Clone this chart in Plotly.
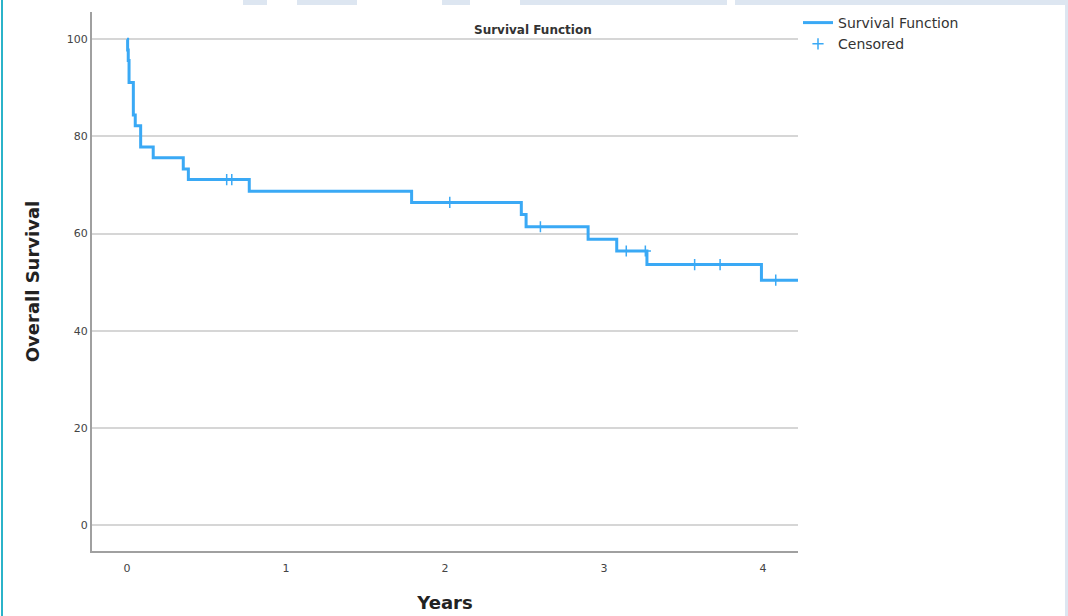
import plotly.graph_objects as go

# Kaplan-Meier step data (years, survival %)
step_times = [0, 0.004, 0.008, 0.013, 0.040, 0.052, 0.086, 0.165, 0.354, 0.386,
              0.769, 1.79, 2.48, 2.51, 2.90, 3.08, 3.27, 3.99, 4.30]
survival = [100, 97.8, 95.6, 91.1, 84.4, 82.2, 77.8, 75.6, 73.3, 71.1,
            68.7, 66.4, 63.9, 61.4, 58.8, 56.4, 53.6, 50.4, 50.4]

censored_times = [0.627, 0.659, 2.03, 2.60, 3.14, 3.26, 3.57, 3.73, 4.08]
censored_values = [71.1, 71.1, 66.4, 61.4, 56.4, 56.4, 53.6, 53.6, 50.4]

x_ticks = [0, 1, 2, 3, 4]
y_ticks = [0, 20, 40, 60, 80, 100]

BLUE = "#3aa9f5"
FONT = "DejaVu Sans"

fig = go.Figure()
fig.add_trace(go.Scatter(
    x=step_times, y=survival, mode="lines", line=dict(shape="hv", color=BLUE, width=3),
    name="Survival Function"))
fig.add_trace(go.Scatter(
    x=censored_times, y=censored_values, mode="markers",
    marker=dict(symbol="cross-thin", size=8, line=dict(color=BLUE, width=1.5), color=BLUE),
    name="Censored"))

L, R, T, B = 92, 798, 12, 551
W, H = 1068, 616

def px(xp):
    return (xp - L) / (R - L)

def py(yp):
    return (B - yp) / (B - T)

shapes = []
shapes.append(dict(type="line", xref="paper", yref="paper", x0=px(2), x1=px(2), y0=py(0), y1=py(616),
                   line=dict(color="#2bb3c9", width=2), layer="above"))
shapes.append(dict(type="rect", xref="paper", yref="paper", x0=px(1065), x1=px(1068), y0=py(0), y1=py(616),
                   line=dict(width=0), fillcolor="#dde6f1", layer="below"))
for x0, x1 in [(243, 267), (297, 357), (442, 470), (520, 727), (735, 1068)]:
    shapes.append(dict(type="rect", xref="paper", yref="paper", x0=px(x0), x1=px(x1), y0=py(0), y1=py(5),
                       line=dict(width=0), fillcolor="#dde6f1", layer="below"))

fig.update_layout(
    width=W, height=H,
    margin=dict(l=L, r=W - R, t=T, b=H - B, autoexpand=False),
    paper_bgcolor="white", plot_bgcolor="white",
    font=dict(family=FONT, color="#333333"),
    showlegend=True,
    legend=dict(xref="container", yref="container", x=798 / W, y=1 - 7 / H,
                xanchor="left", yanchor="top", bgcolor="rgba(0,0,0,0)",
                font=dict(size=14, color="#333333", family=FONT), tracegroupgap=0,
                itemwidth=30),
    xaxis=dict(range=[-0.22, 4.22], tickvals=x_ticks, ticktext=[str(v) for v in x_ticks],
               showgrid=False, zeroline=False, showline=True, linecolor="#a0a0a0", linewidth=2,
               ticks="", tickfont=dict(size=11, color="#444444"), ticklabelstandoff=6,
               automargin=False,
               title=dict(text="<b>Years</b>", font=dict(size=18, color="#222222"), standoff=22)),
    yaxis=dict(range=[-5.35, 105.6], tickvals=y_ticks, ticktext=[str(v) for v in y_ticks],
               showgrid=True, gridcolor="#d6d6d6", gridwidth=1.5, zeroline=False,
               showline=True, linecolor="#a0a0a0", linewidth=2, ticks="",
               tickfont=dict(size=11, color="#444444"), automargin=False,
               title=dict(text="<b>Overall Survival</b>", font=dict(size=18, color="#222222"), standoff=22)),
    shapes=shapes,
    annotations=[dict(text="<b>Survival Function</b>", xref="paper", yref="paper",
                      x=px(533), y=py(30), xanchor="center", yanchor="middle",
                      showarrow=False, font=dict(size=12, color="#333333"))],
)

fig.write_html("out.html", config={"displayModeBar": False},
               post_script="document.body.style.margin='0';document.body.style.padding='0';")
